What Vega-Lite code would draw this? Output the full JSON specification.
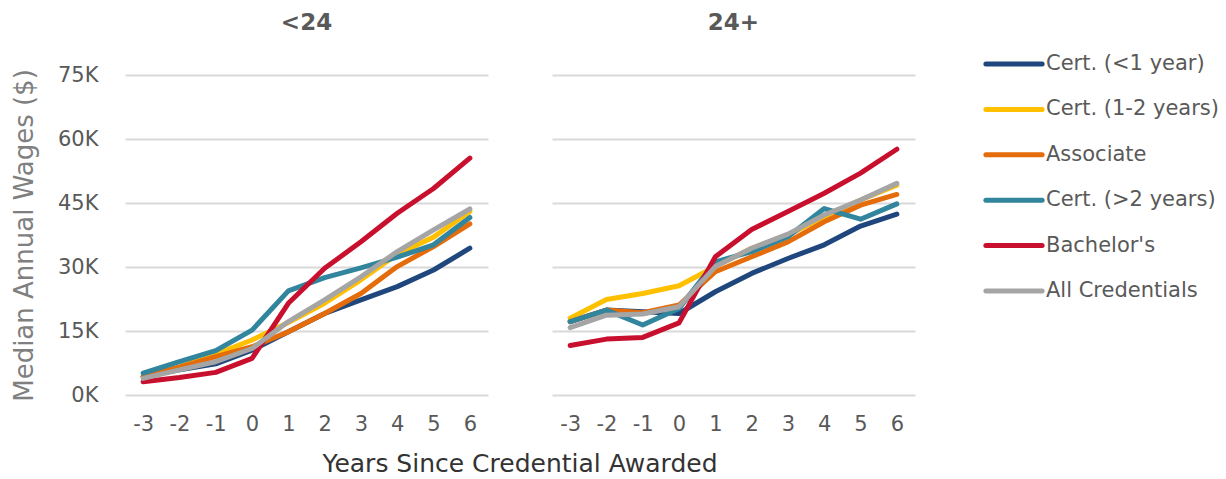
{
  "$schema": "https://vega.github.io/schema/vega-lite/v6.json",
  "padding": {"left": 11, "top": 12, "right": 5, "bottom": 0},
  "datasets": {
    "wages": [
      {"age": "<24", "cred": "Cert. (<1 year)", "year": -3, "wage": 4300},
      {"age": "<24", "cred": "Cert. (<1 year)", "year": -2, "wage": 5900},
      {"age": "<24", "cred": "Cert. (<1 year)", "year": -1, "wage": 7300},
      {"age": "<24", "cred": "Cert. (<1 year)", "year": 0, "wage": 10500},
      {"age": "<24", "cred": "Cert. (<1 year)", "year": 1, "wage": 14800},
      {"age": "<24", "cred": "Cert. (<1 year)", "year": 2, "wage": 19100},
      {"age": "<24", "cred": "Cert. (<1 year)", "year": 3, "wage": 22300},
      {"age": "<24", "cred": "Cert. (<1 year)", "year": 4, "wage": 25400},
      {"age": "<24", "cred": "Cert. (<1 year)", "year": 5, "wage": 29300},
      {"age": "<24", "cred": "Cert. (<1 year)", "year": 6, "wage": 34400},
      {"age": "<24", "cred": "Cert. (1-2 years)", "year": -3, "wage": 4300},
      {"age": "<24", "cred": "Cert. (1-2 years)", "year": -2, "wage": 6600},
      {"age": "<24", "cred": "Cert. (1-2 years)", "year": -1, "wage": 9600},
      {"age": "<24", "cred": "Cert. (1-2 years)", "year": 0, "wage": 12900},
      {"age": "<24", "cred": "Cert. (1-2 years)", "year": 1, "wage": 17000},
      {"age": "<24", "cred": "Cert. (1-2 years)", "year": 2, "wage": 21500},
      {"age": "<24", "cred": "Cert. (1-2 years)", "year": 3, "wage": 27000},
      {"age": "<24", "cred": "Cert. (1-2 years)", "year": 4, "wage": 33000},
      {"age": "<24", "cred": "Cert. (1-2 years)", "year": 5, "wage": 37000},
      {"age": "<24", "cred": "Cert. (1-2 years)", "year": 6, "wage": 43000},
      {"age": "<24", "cred": "Associate", "year": -3, "wage": 4300},
      {"age": "<24", "cred": "Associate", "year": -2, "wage": 6500},
      {"age": "<24", "cred": "Associate", "year": -1, "wage": 9000},
      {"age": "<24", "cred": "Associate", "year": 0, "wage": 11300},
      {"age": "<24", "cred": "Associate", "year": 1, "wage": 14800},
      {"age": "<24", "cred": "Associate", "year": 2, "wage": 19100},
      {"age": "<24", "cred": "Associate", "year": 3, "wage": 23800},
      {"age": "<24", "cred": "Associate", "year": 4, "wage": 30100},
      {"age": "<24", "cred": "Associate", "year": 5, "wage": 34800},
      {"age": "<24", "cred": "Associate", "year": 6, "wage": 40100},
      {"age": "<24", "cred": "Cert. (>2 years)", "year": -3, "wage": 5100},
      {"age": "<24", "cred": "Cert. (>2 years)", "year": -2, "wage": 7800},
      {"age": "<24", "cred": "Cert. (>2 years)", "year": -1, "wage": 10400},
      {"age": "<24", "cred": "Cert. (>2 years)", "year": 0, "wage": 15200},
      {"age": "<24", "cred": "Cert. (>2 years)", "year": 1, "wage": 24400},
      {"age": "<24", "cred": "Cert. (>2 years)", "year": 2, "wage": 27500},
      {"age": "<24", "cred": "Cert. (>2 years)", "year": 3, "wage": 29800},
      {"age": "<24", "cred": "Cert. (>2 years)", "year": 4, "wage": 32300},
      {"age": "<24", "cred": "Cert. (>2 years)", "year": 5, "wage": 35200},
      {"age": "<24", "cred": "Cert. (>2 years)", "year": 6, "wage": 41600},
      {"age": "<24", "cred": "Bachelor's", "year": -3, "wage": 3100},
      {"age": "<24", "cred": "Bachelor's", "year": -2, "wage": 4100},
      {"age": "<24", "cred": "Bachelor's", "year": -1, "wage": 5300},
      {"age": "<24", "cred": "Bachelor's", "year": 0, "wage": 8600},
      {"age": "<24", "cred": "Bachelor's", "year": 1, "wage": 21500},
      {"age": "<24", "cred": "Bachelor's", "year": 2, "wage": 29700},
      {"age": "<24", "cred": "Bachelor's", "year": 3, "wage": 35900},
      {"age": "<24", "cred": "Bachelor's", "year": 4, "wage": 42600},
      {"age": "<24", "cred": "Bachelor's", "year": 5, "wage": 48400},
      {"age": "<24", "cred": "Bachelor's", "year": 6, "wage": 55500},
      {"age": "<24", "cred": "All Credentials", "year": -3, "wage": 3900},
      {"age": "<24", "cred": "All Credentials", "year": -2, "wage": 5900},
      {"age": "<24", "cred": "All Credentials", "year": -1, "wage": 7800},
      {"age": "<24", "cred": "All Credentials", "year": 0, "wage": 10900},
      {"age": "<24", "cred": "All Credentials", "year": 1, "wage": 17200},
      {"age": "<24", "cred": "All Credentials", "year": 2, "wage": 22300},
      {"age": "<24", "cred": "All Credentials", "year": 3, "wage": 27700},
      {"age": "<24", "cred": "All Credentials", "year": 4, "wage": 33600},
      {"age": "<24", "cred": "All Credentials", "year": 5, "wage": 38700},
      {"age": "<24", "cred": "All Credentials", "year": 6, "wage": 43600},
      {"age": "24+", "cred": "Cert. (<1 year)", "year": -3, "wage": 17200},
      {"age": "24+", "cred": "Cert. (<1 year)", "year": -2, "wage": 19900},
      {"age": "24+", "cred": "Cert. (<1 year)", "year": -1, "wage": 19500},
      {"age": "24+", "cred": "Cert. (<1 year)", "year": 0, "wage": 19100},
      {"age": "24+", "cred": "Cert. (<1 year)", "year": 1, "wage": 24200},
      {"age": "24+", "cred": "Cert. (<1 year)", "year": 2, "wage": 28500},
      {"age": "24+", "cred": "Cert. (<1 year)", "year": 3, "wage": 32000},
      {"age": "24+", "cred": "Cert. (<1 year)", "year": 4, "wage": 35200},
      {"age": "24+", "cred": "Cert. (<1 year)", "year": 5, "wage": 39600},
      {"age": "24+", "cred": "Cert. (<1 year)", "year": 6, "wage": 42400},
      {"age": "24+", "cred": "Cert. (1-2 years)", "year": -3, "wage": 18000},
      {"age": "24+", "cred": "Cert. (1-2 years)", "year": -2, "wage": 22400},
      {"age": "24+", "cred": "Cert. (1-2 years)", "year": -1, "wage": 23800},
      {"age": "24+", "cred": "Cert. (1-2 years)", "year": 0, "wage": 25600},
      {"age": "24+", "cred": "Cert. (1-2 years)", "year": 1, "wage": 30100},
      {"age": "24+", "cred": "Cert. (1-2 years)", "year": 2, "wage": 34400},
      {"age": "24+", "cred": "Cert. (1-2 years)", "year": 3, "wage": 37500},
      {"age": "24+", "cred": "Cert. (1-2 years)", "year": 4, "wage": 41800},
      {"age": "24+", "cred": "Cert. (1-2 years)", "year": 5, "wage": 45700},
      {"age": "24+", "cred": "Cert. (1-2 years)", "year": 6, "wage": 49200},
      {"age": "24+", "cred": "Associate", "year": -3, "wage": 17200},
      {"age": "24+", "cred": "Associate", "year": -2, "wage": 19900},
      {"age": "24+", "cred": "Associate", "year": -1, "wage": 19300},
      {"age": "24+", "cred": "Associate", "year": 0, "wage": 21100},
      {"age": "24+", "cred": "Associate", "year": 1, "wage": 28900},
      {"age": "24+", "cred": "Associate", "year": 2, "wage": 32400},
      {"age": "24+", "cred": "Associate", "year": 3, "wage": 35900},
      {"age": "24+", "cred": "Associate", "year": 4, "wage": 40600},
      {"age": "24+", "cred": "Associate", "year": 5, "wage": 44500},
      {"age": "24+", "cred": "Associate", "year": 6, "wage": 47000},
      {"age": "24+", "cred": "Cert. (>2 years)", "year": -3, "wage": 17200},
      {"age": "24+", "cred": "Cert. (>2 years)", "year": -2, "wage": 19900},
      {"age": "24+", "cred": "Cert. (>2 years)", "year": -1, "wage": 16400},
      {"age": "24+", "cred": "Cert. (>2 years)", "year": 0, "wage": 20300},
      {"age": "24+", "cred": "Cert. (>2 years)", "year": 1, "wage": 31200},
      {"age": "24+", "cred": "Cert. (>2 years)", "year": 2, "wage": 33600},
      {"age": "24+", "cred": "Cert. (>2 years)", "year": 3, "wage": 37100},
      {"age": "24+", "cred": "Cert. (>2 years)", "year": 4, "wage": 43700},
      {"age": "24+", "cred": "Cert. (>2 years)", "year": 5, "wage": 41200},
      {"age": "24+", "cred": "Cert. (>2 years)", "year": 6, "wage": 44800},
      {"age": "24+", "cred": "Bachelor's", "year": -3, "wage": 11600},
      {"age": "24+", "cred": "Bachelor's", "year": -2, "wage": 13100},
      {"age": "24+", "cred": "Bachelor's", "year": -1, "wage": 13500},
      {"age": "24+", "cred": "Bachelor's", "year": 0, "wage": 16900},
      {"age": "24+", "cred": "Bachelor's", "year": 1, "wage": 32400},
      {"age": "24+", "cred": "Bachelor's", "year": 2, "wage": 38800},
      {"age": "24+", "cred": "Bachelor's", "year": 3, "wage": 43000},
      {"age": "24+", "cred": "Bachelor's", "year": 4, "wage": 47300},
      {"age": "24+", "cred": "Bachelor's", "year": 5, "wage": 52000},
      {"age": "24+", "cred": "Bachelor's", "year": 6, "wage": 57600},
      {"age": "24+", "cred": "All Credentials", "year": -3, "wage": 15800},
      {"age": "24+", "cred": "All Credentials", "year": -2, "wage": 18700},
      {"age": "24+", "cred": "All Credentials", "year": -1, "wage": 19000},
      {"age": "24+", "cred": "All Credentials", "year": 0, "wage": 20700},
      {"age": "24+", "cred": "All Credentials", "year": 1, "wage": 30100},
      {"age": "24+", "cred": "All Credentials", "year": 2, "wage": 34400},
      {"age": "24+", "cred": "All Credentials", "year": 3, "wage": 37700},
      {"age": "24+", "cred": "All Credentials", "year": 4, "wage": 42200},
      {"age": "24+", "cred": "All Credentials", "year": 5, "wage": 45700},
      {"age": "24+", "cred": "All Credentials", "year": 6, "wage": 49600}
    ]
  },
  "data": {"name": "wages"},
  "facet": {
    "column": {
      "field": "age",
      "type": "nominal",
      "sort": ["<24", "24+"],
      "title": "Years Since Credential Awarded",
      "header": {
        "labelFontSize": 23,
        "labelFontWeight": "bold",
        "labelColor": "#595959",
        "labelPadding": 40,
        "labelOrient": "top",
        "titleOrient": "bottom",
        "titleFontSize": 25,
        "titleFontWeight": "normal",
        "titleColor": "#333333",
        "titlePadding": 8
      }
    }
  },
  "spacing": 64,
  "spec": {
    "width": 363,
    "height": 320,
    "mark": {"type": "line", "strokeWidth": 5, "strokeCap": "round", "strokeJoin": "round"},
    "encoding": {
      "x": {
        "field": "year",
        "type": "ordinal",
        "scale": {"type": "point", "padding": 0.5},
        "axis": {"title": null, "labelAngle": 0, "domain": false, "ticks": false, "grid": false, "labelPadding": 18, "labelFontSize": 21, "labelColor": "#595959"}
      },
      "y": {
        "field": "wage",
        "type": "quantitative",
        "scale": {"domain": [0, 75000], "nice": false},
        "axis": {
          "title": "Median Annual Wages ($)",
          "titleFontSize": 26,
          "titleFontWeight": "normal",
          "titleColor": "#7f7f7f",
          "titlePadding": 20,
          "values": [0, 15000, 30000, 45000, 60000, 75000],
          "labelExpr": "(datum.value / 1000) + 'K'",
          "labelFontSize": 21,
          "labelColor": "#595959",
          "labelPadding": 27,
          "domain": false,
          "ticks": false,
          "grid": true,
          "gridColor": "#d9d9d9",
          "gridWidth": 2
        }
      },
      "color": {
        "field": "cred",
        "type": "nominal",
        "sort": ["Cert. (<1 year)", "Cert. (1-2 years)", "Associate", "Cert. (>2 years)", "Bachelor's", "All Credentials"],
        "scale": {
          "domain": ["Cert. (<1 year)", "Cert. (1-2 years)", "Associate", "Cert. (>2 years)", "Bachelor's", "All Credentials"],
          "range": ["#1F477D", "#FFC000", "#E46C0A", "#31859C", "#C8102E", "#A5A5A5"]
        },
        "legend": {
          "title": null,
          "orient": "none",
          "legendX": 864,
          "legendY": -36,
          "symbolType": "M-1.25,0H1.25",
          "symbolSize": 2025,
          "symbolStrokeWidth": 5,
          "rowPadding": 10.4,
          "labelOffset": 7,
          "labelFontSize": 21,
          "labelColor": "#595959",
          "labelLimit": 300,
          "encode": {"symbols": {"update": {"strokeCap": {"value": "round"}}}}
        }
      }
    }
  },
  "config": {
    "font": "DejaVu Sans",
    "view": {"stroke": null}
  }
}
